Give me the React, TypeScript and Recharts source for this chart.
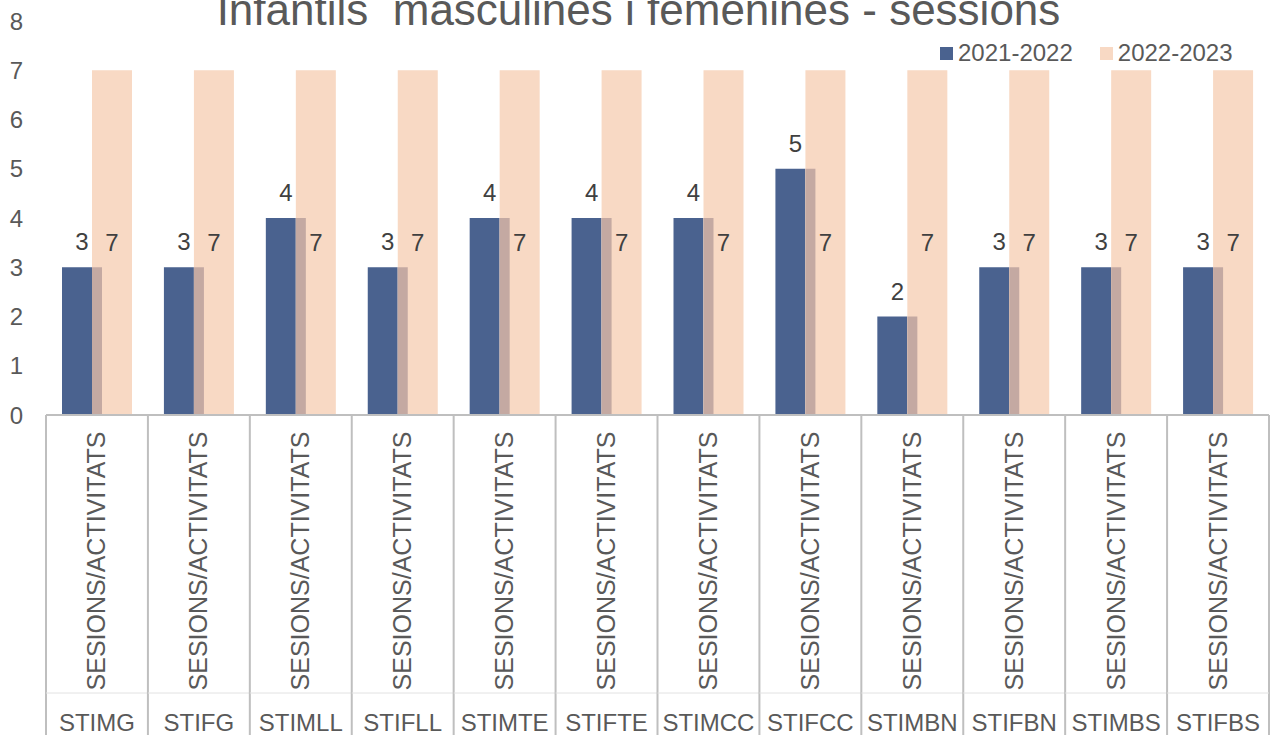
import React from "react";
import { BarChart, Bar, XAxis, YAxis, Legend, LabelList } from "recharts";

const categories = [
  "STIMG",
  "STIFG",
  "STIMLL",
  "STIFLL",
  "STIMTE",
  "STIFTE",
  "STIMCC",
  "STIFCC",
  "STIMBN",
  "STIFBN",
  "STIMBS",
  "STIFBS",
];
const sessions2122 = [3, 3, 4, 3, 4, 4, 4, 5, 2, 3, 3, 3];
const sessions2223 = [7, 7, 7, 7, 7, 7, 7, 7, 7, 7, 7, 7];
const yTicks = [0, 1, 2, 3, 4, 5, 6, 7, 8];
const groupLabel = "SESIONS/ACTIVITATS";
const seriesNames = ["2021-2022", "2022-2023"];
const title = "Infantils  masculines i femenines - sessions";

const data = categories.map((category, i) => ({
  category,
  s2122: sessions2122[i],
  s2223: sessions2223[i],
}));

const W = 1272;
const H = 735;
const Y_AXIS_W = 46;
const RIGHT = 3;
const X_AXIS_H = 320;
const BAND = (W - Y_AXIS_W - RIGHT) / categories.length;
const DEPTH = 10;

const BLUE = "#4A628F";
const PEACH = "#F8D9C4";
const SIDE = "#C4A9A2";
const GRID = "#BFBFBF";
const TEXT = "#595959";
const LABEL = "#404040";

// front face of the 2021-2022 bar (its side face is drawn over the peach bar)
const FrontBar = (props: any) => {
  const { x, y, width, height } = props;
  if (!height) return null;
  return <rect x={x} y={y} width={width - DEPTH} height={height} fill={BLUE} />;
};

const BackBar = (props: any) => {
  const { x, y, width, height, payload } = props;
  if (!height) return null;
  const perUnit = height / payload.s2223;
  const sideH = payload.s2122 * perUnit;
  return (
    <g>
      <rect x={x} y={y} width={width} height={height} fill={PEACH} />
      <rect x={x} y={y + height - sideH} width={DEPTH} height={sideH} fill={SIDE} />
    </g>
  );
};

const CategoryTick = (props: any) => {
  const { x, y, payload, index } = props;
  const half = BAND / 2;
  const rx = x + 8.5;
  const ry = y + 146;
  return (
    <g>
      <line x1={x - half} x2={x - half} y1={y} y2={H} stroke={GRID} strokeWidth={2} />
      {index === categories.length - 1 && (
        <line x1={x + half} x2={x + half} y1={y} y2={H} stroke={GRID} strokeWidth={2} />
      )}
      <line x1={x - half} x2={x + half} y1={y + 278} y2={y + 278} stroke="#E2E2E2" strokeWidth={1} />
      <text
        x={rx}
        y={ry}
        transform={`rotate(-90 ${rx} ${ry})`}
        textAnchor="middle"
        fontSize={25}
        fill={TEXT}
      >
        {groupLabel}
      </text>
      <text x={x} y={y + 316} textAnchor="middle" fontSize={24} fill={TEXT}>
        {payload.value}
      </text>
    </g>
  );
};

const LegendContent = (props: any) => (
  <div style={{ display: "flex", alignItems: "center", fontSize: 24, color: TEXT }}>
    {(props.payload || []).map((p: any) => (
      <div key={p.value} style={{ display: "flex", alignItems: "center", marginRight: 27 }}>
        <span style={{ width: 13, height: 13, background: p.color, marginRight: 5 }} />
        {p.value}
      </div>
    ))}
  </div>
);

const App: React.FC = () => {
  return (
    <div
      style={{
        position: "absolute",
        left: 0,
        top: 0,
        width: W,
        height: H,
        overflow: "hidden",
        background: "#fff",
        fontFamily: "'Liberation Sans', Arial, sans-serif",
      }}
    >
      <div
        style={{
          position: "absolute",
          left: 0,
          top: -12,
          width: W + 5,
          textAlign: "center",
          fontSize: 44,
          lineHeight: 1,
          color: TEXT,
          whiteSpace: "pre",
          zIndex: 1,
        }}
      >
        {title}
      </div>
      <BarChart
        width={W}
        height={H}
        data={data}
        margin={{ top: 21, right: RIGHT, left: 0, bottom: 0 }}
        barGap={-DEPTH}
      >
        <XAxis
          dataKey="category"
          height={X_AXIS_H}
          interval={0}
          tickLine={false}
          tickSize={0}
          tickMargin={0}
          axisLine={{ stroke: GRID, strokeWidth: 2 }}
          tick={<CategoryTick />}
        />
        <YAxis
          domain={[0, 8]}
          ticks={yTicks}
          interval={0}
          width={Y_AXIS_W}
          axisLine={false}
          tickLine={false}
          tickSize={0}
          tickMargin={23}
          tick={{ fill: TEXT, fontSize: 24 }}
        />
        <Legend
          layout="horizontal"
          verticalAlign="middle"
          align="center"
          content={<LegendContent />}
          wrapperStyle={{ top: 39, left: 940, width: 330 }}
        />
        <Bar
          dataKey="s2122"
          name={seriesNames[0]}
          fill={BLUE}
          barSize={40}
          shape={<FrontBar />}
          isAnimationActive={false}
        >
          <LabelList dataKey="s2122" position="top" offset={17} fill={LABEL} fontSize={24} />
        </Bar>
        <Bar
          dataKey="s2223"
          name={seriesNames[1]}
          fill={PEACH}
          barSize={40}
          shape={<BackBar />}
          isAnimationActive={false}
        >
          <LabelList dataKey="s2223" position="center" fill={LABEL} fontSize={24} />
        </Bar>
      </BarChart>
    </div>
  );
};

export default App;
